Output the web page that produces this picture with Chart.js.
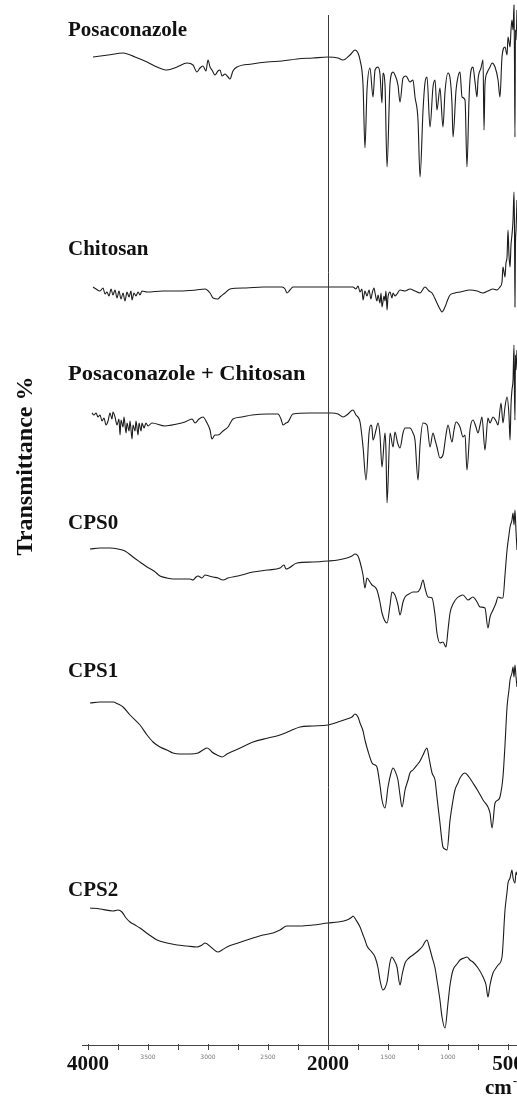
<!DOCTYPE html>
<html>
<head>
<meta charset="utf-8">
<script src="https://cdn.jsdelivr.net/npm/chart.js@4.4.0/dist/chart.umd.min.js"></script>
<style>
  html, body { margin: 0; padding: 0; background: #fff; }
  #wrap { width: 517px; height: 1096px; position: relative; }
</style>
</head>
<body>
<div id="wrap"><canvas id="ftir"></canvas></div>
<script>
// FTIR spectra, [wavenumber cm-1, relative transmittance]
const posaconazole = [
  [3958,123],[3833,125],[3708,127],[3608,123],[3508,118],[3425,113],[3342,110],[3258,113],
  [3175,117],[3125,115],[3092,108],[3067,112],[3042,114],[3017,109],[3000,120],[2983,113],
  [2967,110],[2942,105],[2917,109],[2900,110],[2883,104],[2858,106],[2833,103],[2817,101],
  [2792,109],[2758,113],[2633,116],[2508,118],[2383,119],[2258,121],[2125,122],[2000,123],
  [1917,122],[1875,120],[1817,125],[1775,130],[1750,127],[1733,120],[1708,95],[1692,32],
  [1675,90],[1650,112],[1625,83],[1608,110],[1583,113],[1567,106],[1550,77],[1542,107],
  [1525,95],[1508,13],[1483,97],[1458,108],[1442,105],[1417,95],[1400,78],[1375,102],
  [1350,104],[1317,98],[1292,100],[1275,83],[1250,60],[1233,3],[1208,70],[1192,97],
  [1175,103],[1150,53],[1125,93],[1108,100],[1092,70],[1067,92],[1042,53],[1025,88],
  [1000,107],[983,102],[967,77],[958,43],[933,90],[917,103],[900,108],[883,83],[858,80],
  [842,13],[825,80],[817,100],[792,113],[775,98],[758,83],[750,100],[725,112],[708,120],
  [700,50],[692,95],[675,107],[650,113],[633,117],[608,113],[583,100],[567,83],[550,123],
  [525,133],[508,125],[500,143],[483,133],[475,150],[467,160],[458,150],[450,175],
  [446,120],[442,43],[438,150],[433,140],[425,170]
];
const chitosan = [
  [3958,28],[3933,26],[3900,24],[3875,27],[3858,21],[3842,23],[3825,19],[3808,26],
  [3792,20],[3775,25],[3758,17],[3742,24],[3725,16],[3708,22],[3692,14],[3675,23],
  [3658,18],[3642,24],[3633,15],[3617,22],[3600,19],[3583,23],[3567,20],[3550,24],
  [3508,23],[3375,24],[3233,24],[3100,25],[3025,26],[2983,22],[2958,17],[2917,16],
  [2900,18],[2858,22],[2817,26],[2683,27],[2542,28],[2383,28],[2358,26],[2342,22],
  [2317,25],[2292,28],[2150,28],[2000,28],[1900,28],[1792,28],[1767,26],[1750,29],
  [1733,23],[1717,26],[1708,15],[1692,24],[1675,19],[1658,25],[1642,16],[1633,21],
  [1617,27],[1608,22],[1592,14],[1583,20],[1567,12],[1558,22],[1550,8],[1533,19],
  [1525,14],[1517,24],[1508,5],[1500,18],[1483,23],[1467,17],[1458,22],[1442,19],
  [1425,21],[1400,25],[1358,24],[1317,26],[1275,24],[1233,22],[1192,28],[1158,24],
  [1133,22],[1092,12],[1067,6],[1050,3],[1025,8],[1000,16],[983,20],[942,22],[900,23],
  [817,25],[758,24],[708,22],[667,24],[625,26],[592,25],[567,28],[550,33],[542,48],
  [525,38],[517,52],[508,58],[500,85],[492,60],[483,48],[475,70],[467,80],[458,95],
  [450,123],[446,90],[442,8],[438,70],[433,85],[425,115]
];
const posaChitosan = [
  [3967,92],[3950,90],[3933,92],[3917,88],[3900,90],[3883,84],[3867,87],[3850,80],
  [3833,84],[3817,92],[3800,86],[3792,93],[3775,88],[3758,80],[3742,86],[3733,70],
  [3725,85],[3708,78],[3700,88],[3683,72],[3675,82],[3658,74],[3650,84],[3633,66],
  [3625,80],[3608,74],[3600,84],[3583,70],[3575,82],[3558,74],[3550,82],[3533,77],
  [3517,82],[3500,79],[3467,82],[3358,79],[3258,81],[3192,83],[3133,86],[3108,82],
  [3075,86],[3042,88],[3008,82],[2983,75],[2967,66],[2942,70],[2917,70],[2875,74],
  [2833,78],[2792,86],[2717,88],[2633,90],[2500,91],[2417,91],[2392,86],[2375,80],
  [2350,82],[2333,83],[2292,91],[2150,92],[1967,92],[1917,91],[1875,88],[1833,91],
  [1792,95],[1767,90],[1733,83],[1708,58],[1683,25],[1658,72],[1642,80],[1633,77],
  [1625,65],[1600,75],[1583,82],[1567,70],[1550,38],[1525,72],[1517,55],[1508,2],
  [1483,72],[1458,58],[1442,73],[1420,62],[1400,57],[1375,72],[1358,77],[1317,77],
  [1292,72],[1275,65],[1250,25],[1233,60],[1208,82],[1175,80],[1150,58],[1125,72],
  [1108,65],[1092,58],[1067,47],[1042,50],[1017,70],[1000,80],[967,63],[950,75],
  [933,83],[900,78],[875,68],[858,70],[842,35],[817,75],[792,85],[767,78],[750,72],
  [733,80],[717,88],[692,55],[667,87],[650,82],[625,88],[600,84],[583,80],[558,102],
  [542,82],[525,98],[508,108],[492,90],[483,65],[475,100],[467,115],[458,125],
  [450,160],[446,110],[442,85],[438,150],[433,135],[425,155]
];
const cps0 = [
  [3983,101],[3900,102],[3817,102],[3750,101],[3692,99],[3625,93],[3567,88],[3508,83],
  [3450,79],[3400,74],[3342,72],[3292,71],[3225,71],[3150,71],[3125,70],[3100,73],
  [3083,74],[3050,72],[3025,75],[2992,74],[2958,73],[2917,72],[2875,70],[2833,72],
  [2750,74],[2625,78],[2500,80],[2400,82],[2367,85],[2350,81],[2258,87],[2125,88],
  [2000,89],[1917,90],[1842,92],[1800,94],[1775,96],[1750,94],[1733,88],[1708,75],
  [1692,62],[1675,72],[1650,68],[1633,65],[1608,63],[1592,60],[1567,48],[1550,37],
  [1508,27],[1483,45],[1467,58],[1442,55],[1417,45],[1400,35],[1375,48],[1358,53],
  [1325,56],[1292,58],[1258,58],[1233,61],[1208,70],[1192,62],[1167,53],[1133,52],
  [1108,35],[1092,17],[1067,7],[1042,8],[1017,3],[1000,20],[983,37],[958,46],[925,52],
  [900,54],[875,55],[833,50],[792,53],[758,48],[733,43],[692,42],[667,22],[650,33],
  [625,40],[600,47],[583,53],[558,52],[542,52],[525,75],[508,100],[492,115],[483,123],
  [467,130],[458,137],[450,125],[442,140],[433,118],[425,100]
];
const cps1 = [
  [3983,152],[3900,153],[3792,153],[3750,151],[3708,148],[3650,140],[3567,130],[3508,120],
  [3458,113],[3400,108],[3342,105],[3292,102],[3233,101],[3150,101],[3083,102],[3042,105],
  [3008,107],[2983,105],[2967,103],[2925,100],[2883,98],[2842,101],[2750,106],[2625,113],
  [2500,117],[2400,120],[2317,124],[2233,128],[2125,129],[2000,130],[1917,133],[1842,136],
  [1800,138],[1775,141],[1750,138],[1733,132],[1708,124],[1692,115],[1667,104],[1633,92],
  [1608,90],[1592,88],[1567,70],[1550,55],[1525,47],[1500,68],[1475,82],[1458,87],
  [1438,83],[1417,75],[1400,60],[1383,48],[1358,65],[1333,75],[1317,82],[1292,85],
  [1258,90],[1233,94],[1208,100],[1175,107],[1158,97],[1133,82],[1108,75],[1092,58],
  [1067,32],[1042,8],[1025,6],[1008,5],[983,35],[958,55],[942,65],[917,72],[900,77],
  [858,82],[825,78],[792,72],[750,64],[708,55],[667,48],[650,42],[633,27],[608,52],
  [583,55],[567,58],[542,78],[525,110],[508,148],[492,165],[483,175],[467,182],
  [458,188],[450,178],[442,190],[433,178],[425,168]
];
const cps2 = [
  [3983,122],[3900,121],[3792,119],[3750,120],[3717,118],[3683,112],[3650,108],[3608,105],
  [3567,102],[3500,96],[3425,90],[3342,87],[3258,85],[3175,84],[3092,83],[3050,85],
  [3025,87],[2967,82],[2917,78],[2883,80],[2842,83],[2750,87],[2625,92],[2542,95],
  [2458,97],[2400,100],[2342,104],[2233,104],[2125,105],[2000,107],[1917,108],[1842,110],
  [1800,113],[1792,114],[1767,110],[1733,103],[1708,95],[1692,90],[1675,84],[1650,80],
  [1608,73],[1583,62],[1567,50],[1542,40],[1525,42],[1508,48],[1483,68],[1467,73],
  [1450,70],[1425,63],[1400,45],[1383,55],[1358,67],[1325,72],[1292,75],[1250,79],
  [1217,83],[1175,90],[1158,84],[1133,73],[1108,62],[1092,50],[1067,30],[1050,13],
  [1025,2],[1000,27],[983,45],[958,60],[925,66],[900,70],[867,72],[842,73],[817,70],
  [792,68],[750,62],[708,53],[683,45],[667,33],[650,45],[625,57],[600,62],[583,65],
  [550,73],[525,120],[508,138],[500,147],[483,152],[467,160],[458,152],[442,147],
  [433,158],[425,155]
];

const sampleNames = ['Posaconazole', 'Chitosan', 'Posaconazole + Chitosan', 'CPS0', 'CPS1', 'CPS2'];
const spectra = [posaconazole, chitosan, posaChitosan, cps0, cps1, cps2];
// vertical stacking offset of each spectrum
const offsets = [865, 730, 540, 395, 190, 15];

const majorTicks = [4000, 2000, 500];
const minorTickLabels = [3500, 3000, 2500, 1500, 1000];
const tickStep = 250;
const markerWavenumber = 2000;

// label baselines on the y scale, left edge in px
const labelY = [1009, 790, 665, 516, 368, 149];
const labelX = 68;

const serif = '"Liberation Serif", "Times New Roman", serif';

const decorations = {
  id: 'decorations',
  afterDatasetsDraw(chart) {
    const ctx = chart.ctx;
    const xs = chart.scales.x, ys = chart.scales.y;
    const axisY = ys.getPixelForValue(0);
    ctx.save();

    // marker line at 2000 cm-1
    const mx = Math.round(xs.getPixelForValue(markerWavenumber)) + 0.5;
    ctx.strokeStyle = '#3a3a3a';
    ctx.lineWidth = 1;
    ctx.beginPath();
    ctx.moveTo(mx, ys.getPixelForValue(1030));
    ctx.lineTo(mx, axisY);
    ctx.stroke();

    // x axis line and ticks
    ctx.strokeStyle = '#444';
    ctx.beginPath();
    ctx.moveTo(chart.chartArea.left, axisY + 0.5);
    ctx.lineTo(chart.chartArea.right, axisY + 0.5);
    ctx.stroke();
    ctx.beginPath();
    for (let w = 4000; w >= 500; w -= tickStep) {
      const tx = Math.round(xs.getPixelForValue(w)) + 0.5;
      ctx.moveTo(tx, axisY - 1);
      ctx.lineTo(tx, axisY + 5);
    }
    ctx.stroke();

    // small tick labels
    ctx.fillStyle = '#777';
    ctx.font = '6px "DejaVu Sans", sans-serif';
    ctx.textAlign = 'center';
    ctx.textBaseline = 'middle';
    minorTickLabels.forEach(w => ctx.fillText(String(w), xs.getPixelForValue(w), axisY + 12));

    // large tick labels
    ctx.fillStyle = '#111';
    ctx.font = 'bold 21px ' + serif;
    ctx.textBaseline = 'alphabetic';
    majorTicks.forEach(w => ctx.fillText(String(w), xs.getPixelForValue(w), axisY + 25));

    // unit
    ctx.textAlign = 'left';
    ctx.fillText('cm', 485, axisY + 49);
    ctx.font = 'bold 12px ' + serif;
    ctx.fillText('-1', 513, axisY + 40);

    // sample names
    ctx.font = 'bold 21px ' + serif;
    sampleNames.forEach((name, i) => {
      const y = ys.getPixelForValue(labelY[i]);
      if (name.includes('+')) {
        // the combined label is set a little wider
        ctx.save();
        ctx.translate(labelX, y);
        ctx.scale(1.07, 1);
        ctx.fillText(name, 0, 0);
        ctx.restore();
      } else {
        ctx.fillText(name, labelX, y);
      }
    });

    // y axis title
    ctx.translate(32, 466);
    ctx.rotate(-Math.PI / 2);
    ctx.textAlign = 'center';
    ctx.font = 'bold 24px ' + serif;
    ctx.fillText('Transmittance %', 0, 0);
    ctx.restore();
  }
};

new Chart(document.getElementById('ftir'), {
  type: 'line',
  data: {
    datasets: spectra.map((s, i) => ({
      label: sampleNames[i],
      data: s.map(p => ({ x: p[0], y: offsets[i] + p[1] })),
      borderColor: '#1c1c1c',
      borderWidth: 1.1,
      pointRadius: 0,
      cubicInterpolationMode: 'monotone',
      fill: false
    }))
  },
  options: {
    responsive: true,
    maintainAspectRatio: false,
    animation: false,
    layout: { padding: { left: 82, right: 0, top: 0, bottom: 51 } },
    plugins: { legend: { display: false }, tooltip: { enabled: false } },
    scales: {
      x: { type: 'linear', min: 425, max: 4050, reverse: true, display: false },
      y: { type: 'linear', min: 0, max: 1045, display: false }
    }
  },
  plugins: [decorations]
});
</script>
</body>
</html>
